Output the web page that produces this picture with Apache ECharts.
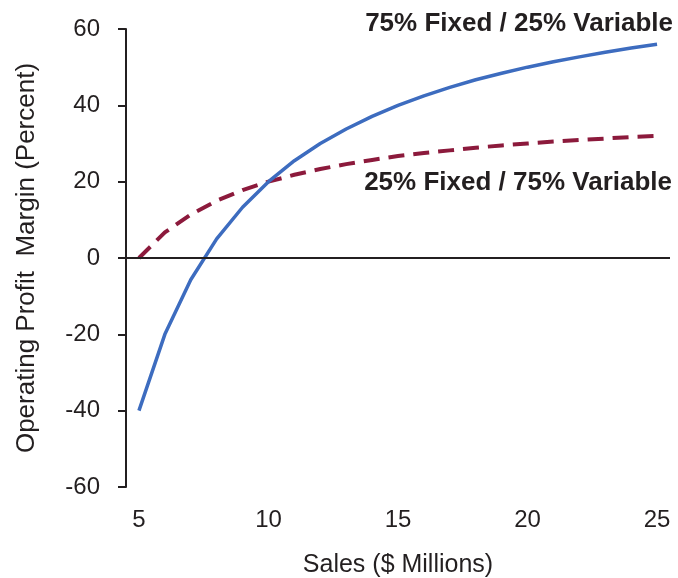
<!DOCTYPE html>
<html>
<head>
<meta charset="utf-8">
<script src="https://cdn.jsdelivr.net/npm/echarts@6/dist/echarts.min.js"></script>
<style>
  html, body { margin: 0; padding: 0; background: #fff; }
  #chart { width: 678px; height: 578px; }
</style>
</head>
<body>
<div id="chart"></div>
<script>
// sales in $ millions
const sales = [5, 6, 7, 8, 9, 10, 11, 12, 13, 14, 15, 16, 17, 18, 19, 20, 21, 22, 23, 24, 25]
// operating profit margin (%)
const highFixed = [-40, -20, -5.7, 5, 13.3, 20, 25.5, 30, 33.8, 37.1, 40, 42.5, 44.7, 46.7, 48.4, 50, 51.4, 52.7, 53.9, 55, 56]
const lowFixed = [0, 6.7, 11.4, 15, 17.8, 20, 21.8, 23.3, 24.6, 25.7, 26.7, 27.5, 28.2, 28.9, 29.5, 30, 30.5, 30.9, 31.3, 31.7, 32]
const xTicks = [5, 10, 15, 20, 25]
const yTicks = [-60, -40, -20, 0, 20, 40, 60]

const labelHigh = '75% Fixed / 25% Variable'
const labelLow = '25% Fixed / 75% Variable'

const textColor = '#231f20'
const fontFam = '"Liberation Sans", Arial, sans-serif'

const chart = echarts.init(document.getElementById('chart'))

const option = {
  animation: false,
  grid: { left: 126, right: 8, top: 29, bottom: 91, outerBoundsMode: 'none', containLabel: false },
  xAxis: {
    type: 'value',
    min: 4.5,
    max: 25.5,
    name: 'Sales ($ Millions)',
    nameLocation: 'middle',
    nameGap: 66,
    nameTextStyle: { color: textColor, fontSize: 25, fontFamily: fontFam },
    axisLine: { show: false },
    axisTick: { show: false },
    splitLine: { show: false },
    axisLabel: {
      customValues: xTicks,
      color: textColor,
      fontSize: 24,
      fontFamily: fontFam,
      margin: 21
    }
  },
  yAxis: {
    type: 'value',
    min: -60,
    max: 60,
    interval: 20,
    name: 'Operating Profit  Margin (Percent)',
    nameLocation: 'middle',
    nameGap: 86,
    nameTextStyle: { color: textColor, fontSize: 26, fontFamily: fontFam },
    axisLine: { show: true, onZero: false, lineStyle: { color: textColor, width: 2 } },
    axisTick: { show: true, length: 8, lineStyle: { color: textColor, width: 2 } },
    splitLine: { show: false },
    axisLabel: {
      customValues: yTicks,
      color: textColor,
      fontSize: 24,
      fontFamily: fontFam,
      margin: 26
    }
  },
  series: [
    {
      name: labelLow,
      type: 'line',
      data: sales.map((s, i) => [s, lowFixed[i]]),
      symbol: 'none',
      lineStyle: { color: '#8c1a3c', width: 4, type: [16, 9] },
      markLine: {
        silent: true,
        symbol: 'none',
        label: { show: false },
        lineStyle: { color: textColor, width: 2, type: 'solid' },
        data: [{ yAxis: 0 }]
      },
      z: 3
    },
    {
      name: labelHigh,
      type: 'line',
      data: sales.map((s, i) => [s, highFixed[i]]),
      symbol: 'none',
      lineStyle: { color: '#3d6cbf', width: 3.5 },
      z: 4
    }
  ],
  graphic: [
    {
      type: 'text',
      right: 5,
      top: 11,
      style: { text: labelHigh, fill: textColor, fontSize: 26, fontWeight: 'bold', fontFamily: fontFam }
    },
    {
      type: 'text',
      right: 6,
      top: 170,
      style: { text: labelLow, fill: textColor, fontSize: 26, fontWeight: 'bold', fontFamily: fontFam }
    }
  ]
}

chart.setOption(option)
</script>
</body>
</html>
